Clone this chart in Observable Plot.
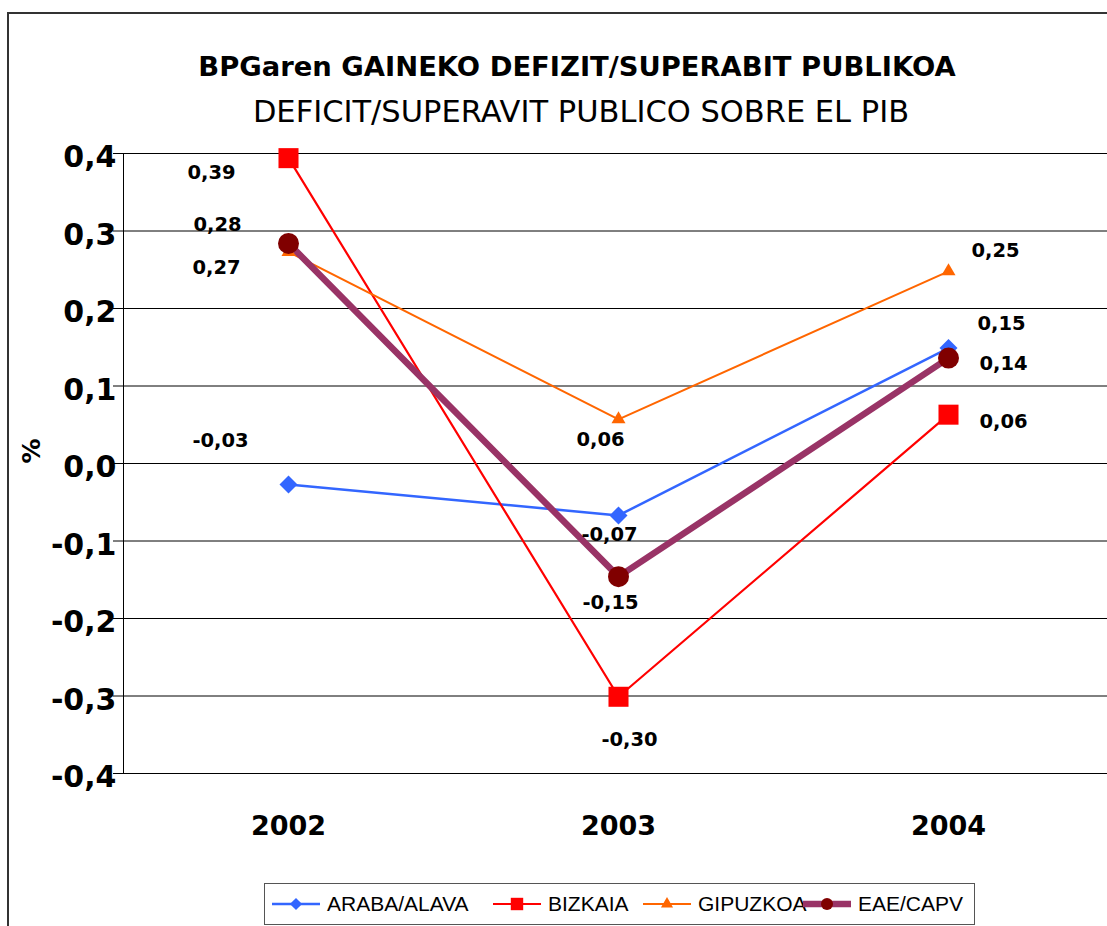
<!DOCTYPE html>
<html>
<head>
<meta charset="utf-8">
<script src="https://cdn.jsdelivr.net/npm/d3@7"></script>
<script src="https://cdn.jsdelivr.net/npm/@observablehq/plot@0.6"></script>
<style>
html, body { margin: 0; padding: 0; overflow: hidden; background: #fff; width: 1107px; height: 926px; }
#frame { position: absolute; left: 7px; top: 12px; width: 1130px; height: 960px; border: 2px solid #333; box-sizing: border-box; }
#title { position: absolute; left: 77px; width: 1000px; top: 53px; text-align: center; font: bold 27.4px "DejaVu Sans"; line-height: 1; white-space: nowrap; color: #000; }
#subtitle { position: absolute; left: 81px; width: 1000px; top: 97px; text-align: center; font: 30.5px "DejaVu Sans"; line-height: 1; white-space: nowrap; color: #000; }
#chart { position: absolute; left: 0; top: 0; width: 1120px; height: 860px; }
#chart svg { max-width: none !important; }
#legend { position: absolute; left: 264px; top: 883px; width: 711px; height: 42px; border: 1px solid #555; box-sizing: border-box; background: #fff; }
.item { position: absolute; top: 0; height: 40px; display: flex; align-items: center; font: 21px "Liberation Sans"; color: #000; white-space: nowrap; }
.item svg { margin-right: 7px; }
</style>
</head>
<body>
<div id="frame"></div>
<div id="title">BPGaren GAINEKO DEFIZIT/SUPERABIT PUBLIKOA</div>
<div id="subtitle">DEFICIT/SUPERAVIT PUBLICO SOBRE EL PIB</div>
<div id="chart"></div>
<div id="legend"></div>
<script>
// ---- data ----
const years = ["2002", "2003", "2004"];
const seriesNames = ["ARABA/ALAVA", "BIZKAIA", "GIPUZKOA", "EAE/CAPV"];
const araba = [-0.027, -0.067, 0.149];
const bizkaia = [0.394, -0.301, 0.063];
const gipuzkoa = [0.273, 0.057, 0.248];
const eae = [0.284, -0.146, 0.136];
const yTicks = [-0.4, -0.3, -0.2, -0.1, 0, 0.1, 0.2, 0.3, 0.4];
const yLabel = "%";

// ---- styles ----
const styles = {
  "ARABA/ALAVA": {stroke: "#3366FF", strokeWidth: 2.5, symbol: "diamond2", fill: "#3366FF", r: 8.1, lr: 5.5},
  "BIZKAIA": {stroke: "#FF0000", strokeWidth: 2.2, symbol: "square", fill: "#FF0000", r: 11.3, lr: 7},
  "GIPUZKOA": {stroke: "#FF6600", strokeWidth: 2, symbol: "triangle", fill: "#FF6600", r: 5.2, lr: 4.5},
  "EAE/CAPV": {stroke: "#993366", strokeWidth: 6.5, symbol: "circle", fill: "#800000", r: 10.5, lr: 6}
};
// label offsets (px) relative to each point, per year
const labelOffsets = {
  "ARABA/ALAVA": [[-68, -44], [-9, 19], [53, -24]],
  "BIZKAIA": [[-77, 15], [11, 43], [55, 7]],
  "GIPUZKOA": [[-72, 16], [-18, 20], [47, -21]],
  "EAE/CAPV": [[-71, -19], [-8, 26], [55, 6]]
};

const valuesBySeries = {"ARABA/ALAVA": araba, "BIZKAIA": bizkaia, "GIPUZKOA": gipuzkoa, "EAE/CAPV": eae};
const rows = seriesNames.flatMap(s => years.map((y, i) => ({series: s, year: y, value: valuesBySeries[s][i], idx: i})));

const fmt1 = v => (Math.abs(v) < 1e-9 ? 0 : v).toFixed(1).replace(".", ",");
const fmt2 = v => v.toFixed(2).replace(".", ",");

const marks = [
  Plot.ruleY(yTicks, {stroke: "#000", strokeWidth: 1}),
  Plot.frame({anchor: "left", stroke: "#000"}),
  Plot.axisY({ticks: yTicks, tickSize: 10, tickFormat: () => "", label: null, stroke: "#000"}),
  Plot.axisY({ticks: yTicks, tickSize: 0, tickPadding: 7, tickFormat: fmt1, label: null,
    fontSize: 30, fontWeight: "bold", fill: "#000", dy: 4}),
  Plot.axisX({tickSize: 0, tickPadding: 42, label: null, fontSize: 27, fontWeight: "bold", fill: "#000"}),
  Plot.text([yLabel], {frameAnchor: "left", dx: -92, rotate: -90, fontSize: 25, fontWeight: "bold", fill: "#000"})
];

for (const s of seriesNames) {
  const st = styles[s];
  const data = rows.filter(d => d.series === s);
  marks.push(Plot.line(data, {x: "year", y: "value", stroke: st.stroke, strokeWidth: st.strokeWidth, strokeLinejoin: "miter"}));
}
for (const s of seriesNames) {
  const st = styles[s];
  const data = rows.filter(d => d.series === s);
  marks.push(Plot.dot(data, {x: "year", y: "value", symbol: () => st.symbol, fill: st.fill, stroke: "none", r: st.r}));
}
for (const s of seriesNames) {
  const data = rows.filter(d => d.series === s);
  data.forEach((d, i) => {
    const [dx, dy] = labelOffsets[s][i];
    marks.push(Plot.text([d], {x: "year", y: "value", text: d => fmt2(d.value), dx, dy,
      fontSize: 19.5, fontWeight: "bold", fill: "#000"}));
  });
}

const chart = Plot.plot({
  width: 1120,
  height: 860,
  marginLeft: 123,
  marginRight: 7,
  marginTop: 153,
  marginBottom: 87,
  style: {fontFamily: "DejaVu Sans", background: "transparent", overflow: "visible", color: "#000", maxWidth: "none"},
  x: {type: "point", domain: years, padding: 0.5},
  y: {domain: [-0.4, 0.4]},
  symbol: {type: "identity"},
  marks
});
document.getElementById("chart").appendChild(chart);

// ---- legend ----
const legend = document.getElementById("legend");
const itemLefts = [7, 228, 378, 538];
seriesNames.forEach((s, i) => {
  const st = styles[s];
  const item = document.createElement("div");
  item.className = "item";
  item.style.left = itemLefts[i] + "px";
  const svg = d3.create("svg").attr("width", 48).attr("height", 20);
  svg.append("line").attr("x1", 0).attr("x2", 48).attr("y1", 10).attr("y2", 10)
    .attr("stroke", st.stroke).attr("stroke-width", st.strokeWidth);
  const symMap = {diamond2: d3.symbolDiamond2, square: d3.symbolSquare, triangle: d3.symbolTriangle, circle: d3.symbolCircle};
  svg.append("path").attr("transform", "translate(24,10)")
    .attr("d", d3.symbol(symMap[st.symbol], Math.PI * st.lr * st.lr)())
    .attr("fill", st.fill);
  item.appendChild(svg.node());
  const span = document.createElement("span");
  span.textContent = s;
  item.appendChild(span);
  legend.appendChild(item);
});
</script>
</body>
</html>
